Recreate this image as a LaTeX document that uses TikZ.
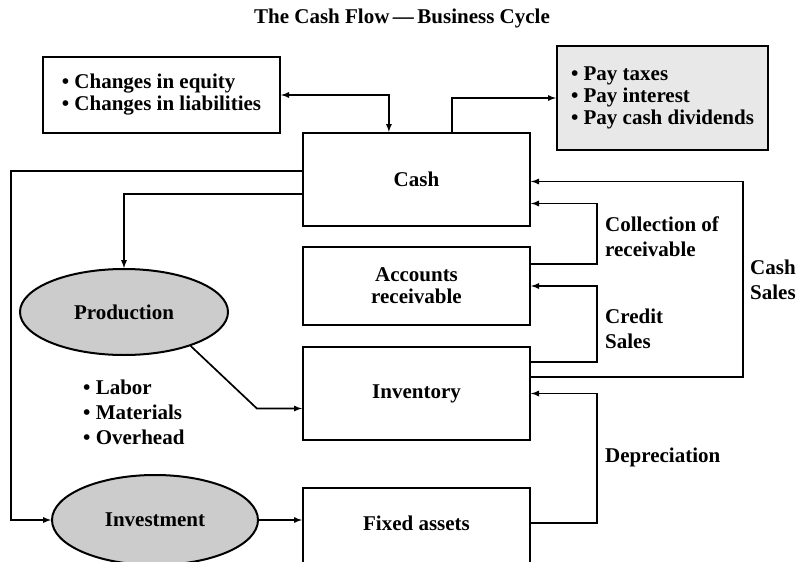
\documentclass[tikz,border=0pt]{standalone}
\usepackage{fontspec}
\setmainfont{Liberation Serif}
\usetikzlibrary{arrows,positioning,calc,shapes.geometric}

\begin{document}
\begin{tikzpicture}[
  x=1pt, y=-1pt,
  font=\fontsize{21}{22}\selectfont\bfseries,
  blk/.style   = {draw, line width=2.2pt, minimum width=227pt, inner sep=2pt,
                  align=center},
  lst/.style   = {draw, line width=2.2pt, align=left, inner sep=3pt},
  oval/.style  = {ellipse, draw, line width=2pt, fill=black!20, inner sep=0pt},
  ar/.style    = {-latex, line width=1.7pt},
  lab/.style   = {align=left, inner sep=0pt, anchor=west,
                  font=\fontsize{21}{25}\selectfont\bfseries},
]
\useasboundingbox (0,0) rectangle (803,562);

% ----------------------------- title ---------------------------------------
\node (title) at (402,18) {The Cash Flow\,---\,Business Cycle};

% ----------------------------- accounts column -----------------------------
\node[blk, minimum height=93pt] (cash) at (416.5,179.5) {Cash};
\node[blk, minimum height=78pt] (ar) at (416.5,286) {Accounts\\receivable};
\node[blk, minimum height=93pt] (inv) at (416.5,393.5) {Inventory};
\node[blk, minimum height=120pt, anchor=north] (fa) at (416.5,487) {};
\node (fatx) at ($(fa.north)+(0,36)$) {Fixed assets};

% ----------------------------- financing / payouts -------------------------
\node[lst, minimum width=237pt, minimum height=76pt] (eq) at (161.5,95)
  {\textbullet\ Changes in equity\\\textbullet\ Changes in liabilities};
\node[lst, fill=black!9, minimum width=211pt, minimum height=104pt] (pay)
  at (662.5,98)
  {\textbullet\ Pay taxes\\\textbullet\ Pay interest\\\textbullet\ Pay cash dividends};
\draw[ar, latex-latex] (eq.east) -| ($(cash.north west)+(87,0)$);
\draw[ar] ($(cash.north west)+(150,0)$) |- (pay.west);

% ----------------------------- production / investment ---------------------
\node[oval, minimum width=208pt, minimum height=86pt] (prod) at (124,312)
  {Production};
\node[oval, minimum width=206pt, minimum height=90pt] (invest) at (155,520)
  {Investment};
\node[lab] (inputs) at (83,412)
  {\textbullet\ Labor\\\textbullet\ Materials\\\textbullet\ Overhead};
\draw[ar] ($(cash.north west)+(0,39)$) -| ($(invest.west)+(-40,0)$)
  -- (invest.west);
\draw[ar] ($(cash.north west)+(0,62)$) -| (prod.north);
\draw[ar] (prod.-27) -- ($(inv.west)+(-45,15)$) -- ($(inv.west)+(0,15)$);
\draw[ar] (invest.east) -- (invest.east -| fa.west);

% ----------------------------- flows back to cash --------------------------
\draw[ar] ($(inv.north east)+(0,31)$) -| ($(cash.east)+(212,2)$)
  -- ($(cash.east)+(0,2)$);
\draw[ar] ($(ar.north east)+(0,18)$) -| ($(cash.east)+(66,24)$)
  -- ($(cash.east)+(0,24)$);
\draw[ar] ($(inv.north east)+(0,16)$) -| ($(ar.east)+(66,0)$) -- (ar.east);
\draw[ar] (fa.east |- fatx) -| ($(inv.east)+(66,0)$) -- (inv.east);

\node[lab] (lbcoll) at (605,237) {Collection of\\receivable};
\node[lab] (lbcash) at (750,280) {Cash\\Sales};
\node[lab] (lbcred) at (605,329) {Credit\\Sales};
\node[lab] (lbdep) at (605,457) {Depreciation};

\end{tikzpicture}
\end{document}
